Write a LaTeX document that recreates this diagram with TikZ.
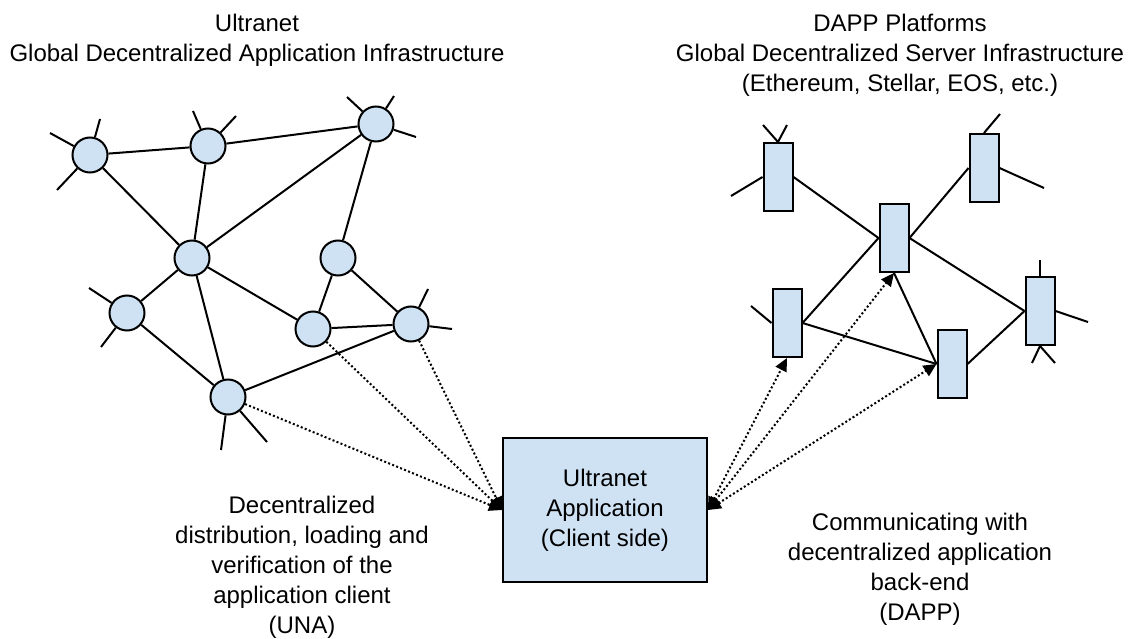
\documentclass[tikz,border=0pt]{standalone}
\usepackage{fontspec}
\setmainfont{Liberation Sans}
\usepackage{tikz}
\usetikzlibrary{arrows.meta}
\definecolor{nodeblue}{HTML}{CFE2F3}
\tikzstyle{peer} = [circle,draw,fill=nodeblue,line width=2pt,minimum size=35pt,inner sep=0pt]
\tikzstyle{server} = [rectangle,draw,fill=nodeblue,line width=2pt,minimum width=29pt,minimum height=68pt,inner sep=0pt]
\tikzstyle{appbox} = [rectangle,draw,fill=nodeblue,line width=2pt,minimum width=204pt,minimum height=144pt,align=center,font=\fontsize{24}{30}\selectfont]
\tikzstyle{link} = [line width=2pt]
\tikzstyle{fetch} = [line width=2pt,dash pattern=on 2pt off 2.3pt,-{Triangle[length=13pt,width=12pt]}]
\tikzstyle{talk} = [fetch,{Triangle[length=13pt,width=12pt]}-{Triangle[length=13pt,width=12pt]}]
\tikzstyle{note} = [align=center,font=\fontsize{24}{30}\selectfont]

\begin{document}
\begin{tikzpicture}[x=1pt,y=-1pt]
	\useasboundingbox (0,0) rectangle (1132,639);
	
	% Titles:
	\node[note] (ultratitle) at (257,40) {Ultranet\\Global Decentralized Application Infrastructure};
	\node[note] (dapptitle) at (900,55) {DAPP Platforms\\Global Decentralized Server Infrastructure\\(Ethereum, Stellar, EOS, etc.)};
	
	% Ultranet peers (circles):
	\node[peer] (c1) at (90,155) {};
	\node[peer] (c2) at (208,146) {};
	\node[peer] (c3) at (376,124) {};
	\node[peer] (c4) at (192,258) {};
	\node[peer] (c5) at (338,258) {};
	\node[peer] (c6) at (127,313) {};
	\node[peer] (c7) at (313,329) {};
	\node[peer] (c8) at (411,324) {};
	\node[peer] (c9) at (228,397) {};
	
	% DAPP servers (rectangles):
	\node[server] (r1) at (778,177) {};
	\node[server] (r2) at (984,168) {};
	\node[server] (r3) at (894,238) {};
	\node[server] (r4) at (787,323) {};
	\node[server] (r5) at (1040,311) {};
	\node[server] (r6) at (952,364) {};
	
	% Client application:
	\node[appbox] (app) at (605,510) {Ultranet\\Application\\(Client side)};
	
	% Loose ends of the networks:
	\foreach \n/\x/\y in {c1a/50/133, c1b/100/119, c1c/57/190, c2a/193/111, c2b/236/116,
		c3a/347/97, c3b/394/96, c3c/416/137, c6a/89/288, c6b/101/347, c8a/428/289, c8b/452/329,
		c9a/221/450, c9b/267/442, r1a/763/125, r1b/787/125, r1c/731/196, r2a/1000/114, r2b/1044/188,
		r4a/751/306, r5a/1040/260, r5b/1088/322, r5c/1032/363, r5d/1055/363}
	\coordinate (\n) at (\x,\y);
	
	\foreach \a/\b in {c1/c1a, c1/c1b, c1/c1c, c2/c2a, c2/c2b, c3/c3a, c3/c3b, c3/c3c,
		c6/c6a, c6/c6b, c8/c8a, c8/c8b, c9/c9a, c9/c9b, r1.north/r1a, r1.north/r1b, r1.west/r1c,
		r2.north/r2a, r2.east/r2b, r4.west/r4a, r5.north/r5a, r5.east/r5b, r5.south/r5c, r5.south/r5d}
	\draw[link] (\a) -- (\b);
	
	% Links between peers:
	\foreach \a/\b in {c1/c2, c2/c3, c1/c4, c2/c4, c3/c4, c3/c5, c4/c6, c4/c9, c4/c7,
		c5/c7, c5/c8, c7/c8, c6/c9, c9/c8}
	\draw[link] (\a) -- (\b);
	
	% Links between servers:
	\foreach \a/\b in {r1.east/r3.west, r3.east/r2.west, r4.east/r3.west, r4.east/r6.west,
		r3.south/r6.west, r3.east/r5.west, r6.east/r5.west}
	\draw[link] (\a) -- (\b);
	
	% Dotted arrows:
	\foreach \a in {c9,c7,c8}
	\draw[fetch] (\a) -- (app.west);
	\foreach \b in {r4.south,r3.south,r6.west}
	\draw[talk] (app.east) -- (\b);
	
	% Captions:
	\node[note] (unanote) at (302,567) {Decentralized\\distribution, loading and\\verification of the\\application client\\(UNA)};
	\node[note] (dappnote) at (920,569) {Communicating with\\decentralized application\\back-end\\(DAPP)};
	
\end{tikzpicture}
\end{document}
